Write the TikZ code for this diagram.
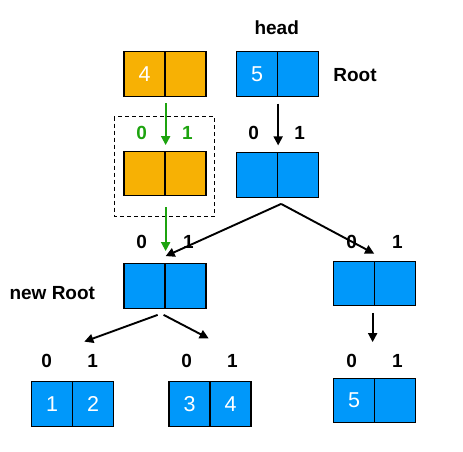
\documentclass[tikz,border=0pt]{standalone}
\usepackage{fontspec}
\setmainfont{Liberation Sans}
\usetikzlibrary{arrows.meta,calc}
\definecolor{orng}{HTML}{F7B104}
\definecolor{blu}{HTML}{0098FA}
\definecolor{grn}{HTML}{1DA30F}
\begin{document}
\begin{tikzpicture}[x=1pt,y=-1pt,
 cell/.style={draw=black, line width=1.3pt, minimum width=41pt, minimum height=44.5pt, inner sep=0pt, text=white, font=\fontsize{21.5}{21.5}\selectfont},
 ocell/.style={cell, fill=orng},
 bcell/.style={cell, fill=blu},
 lbl/.style={font=\bfseries\fontsize{19}{19}\selectfont, inner sep=0pt},
 arr/.style={line width=1.9pt, -{Triangle[length=9pt,width=9pt]}},
]
\useasboundingbox (0,0) rectangle (463,451);
% cells
\node[ocell] (oL) at (144.5,74) {4};
\node[ocell] (oR) at (185.5,74) {};
\node[bcell] (hL) at (257,74) {5};
\node[bcell] (hR) at (298,74) {};
\node[ocell] (omL) at (144.5,173.5) {};
\node[ocell] (omR) at (185.5,173.5) {};
\node[bcell] (mL) at (257,175) {};
\node[bcell] (mR) at (298,175) {};
\node[bcell] (nrL) at (144.5,286) {};
\node[bcell] (nrR) at (185.5,286) {};
\node[bcell] (rmL) at (354,283.5) {};
\node[bcell] (rmR) at (395,283.5) {};
\node[bcell] (b1L) at (52,404) {1};
\node[bcell] (b1R) at (93,404) {2};
\node[bcell] (b3L) at (189.5,404) {3};
\node[bcell] (b3R) at (230.5,404) {4};
\node[bcell] (b5L) at (354,400.5) {5};
\node[bcell] (b5R) at (395,400.5) {};
% dashed frame
\draw[dashed, line width=0.8pt, dash pattern=on 4pt off 3pt] (114.3,116.7) rectangle (214.7,216);
% labels
\node[lbl] (head) at (276.7,27.3) {head};
\node[lbl] (root) at (355,75) {Root};
\node[lbl] (nroot) at (52.3,293.3) {new Root};
\node[lbl, text=grn] (g0) at (141.7,133.3) {0};
\node[lbl, text=grn] (g1) at (187.3,133.3) {1};
\node[lbl] (m0) at (253.7,133.3) {0};
\node[lbl] (m1) at (299.7,133.3) {1};
\node[lbl] (n0) at (141.7,241.7) {0};
\node[lbl] (n1) at (188.3,241.7) {1};
\node[lbl] (r0) at (351.7,241.7) {0};
\node[lbl] (r1) at (397.3,241.7) {1};
\node[lbl] (a0) at (46.7,360.7) {0};
\node[lbl] (a1) at (92.7,360.7) {1};
\node[lbl] (c0) at (186.7,360.7) {0};
\node[lbl] (c1) at (232.3,360.7) {1};
\node[lbl] (d0) at (351.7,360.7) {0};
\node[lbl] (d1) at (397.3,360.7) {1};
% arrow coordinates
\coordinate (sp) at ($(mL.south east)+(3,6)$);
\coordinate (nrIn) at ($(nrL.north east)+(0,-7)$);
\coordinate (rmIn) at ($(rmL.north east)+(-1,-7)$);
\coordinate (nrOutL) at ($(nrL.south east)+(-8,6)$);
\coordinate (nrOutR) at ($(nrL.south east)+(-2,6)$);
\coordinate (b1In) at ($(b1R.north west)+(12.5,-39.5)$);
\coordinate (b3In) at ($(b3R.north west)+(-0.7,-42.7)$);
\coordinate (rmOut) at ($(rmL.south east)+(-2.5,6.5)$);
\coordinate (b5In) at ($(b5L.north east)+(-2.5,-35.5)$);
% arrows
\draw[arr, draw=grn, fill=grn, shorten <=6.5pt, shorten >=5.5pt] (oL.south east) -- (omL.north east);
\draw[arr, shorten <=6.7pt, shorten >=6.7pt] (hL.south east) -- (mL.north east);
\draw[arr, draw=grn, fill=grn, shorten <=11pt, shorten >=12pt] (omL.south east) -- (nrL.north east);
\draw[arr] (sp) -- (nrIn);
\draw[arr] (sp) -- (rmIn);
\draw[arr] (nrOutL) -- (b1In);
\draw[arr] (nrOutR) -- (b3In);
\draw[arr] (rmOut) -- (b5In);
\end{tikzpicture}
\end{document}
